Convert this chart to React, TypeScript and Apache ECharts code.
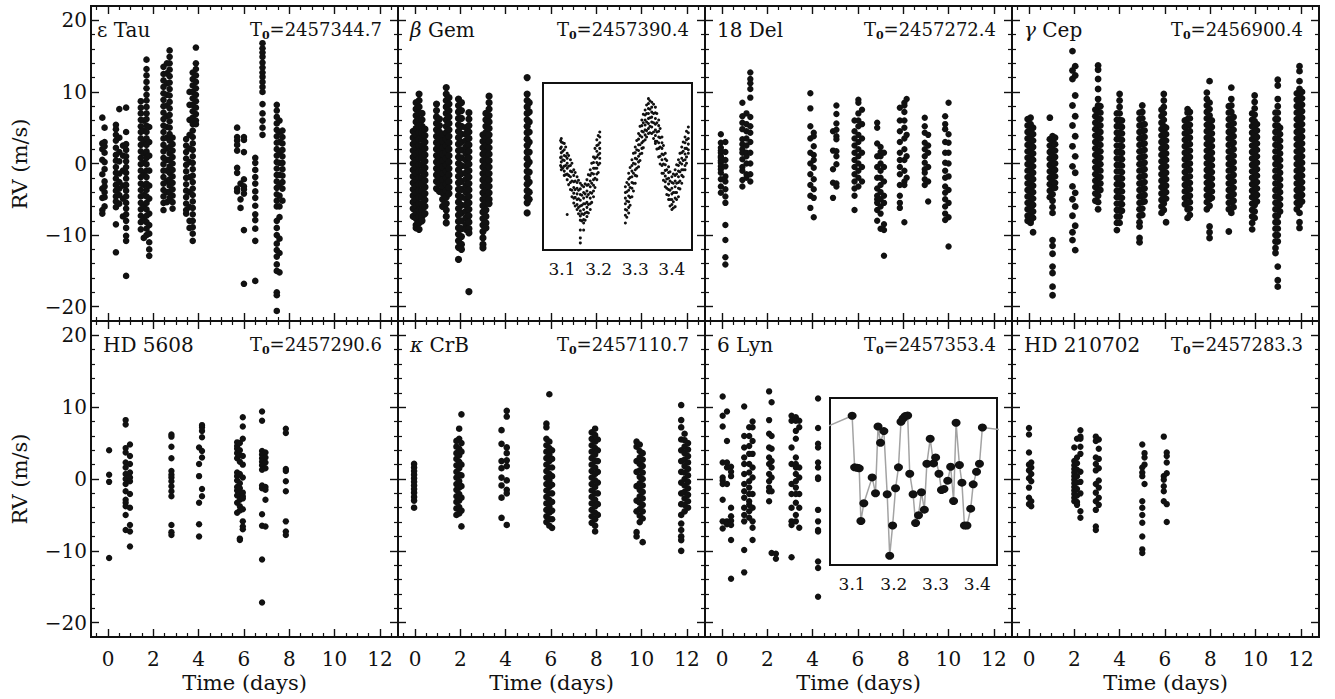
import React, { useEffect, useRef } from "react";
import * as echarts from "echarts";

type Col = [number, number[]];

// ---------- data: each entry is [time (days), [RV values m/s]] ----------
const epsTau: Col[] = [
  [-0.25, [6.4, 2.8, 2.0, 0.5, -1.5, -3.5, -4.8, -6.5, -7.0]],
  [-0.15, [5.0, 3.0, 2.4, 1.5, 0.2, -0.8, -2.5, -3.2, -4.0, -4.7, -6.0]],
  [0.35, [5.4, 4.8, 4.0, 3.2, 2.2, 1.2, 0.4, -0.5, -1.3, -2.1, -3.0, -3.8, -4.6, -5.3, -6.1, -8.5, -12.4]],
  [0.5, [7.6, 3.6, 1.6, 0.3, -1.4, -2.6, -3.5, -4.4, -5.6]],
  [0.66, [2.5, 1.1, -1.0, -3.1, -4.9, -7.4]],
  [0.8, [7.8, 4.4, 2.7, 1.9, 1.0, 0.3, -0.5, -1.3, -2.1, -3.0, -3.8, -4.6, -5.5, -6.3, -7.1, -8.0, -9.0, -10.1, -10.8, -15.7]],
  [1.45, [8.7, 7.8, 7.0, 6.1, 5.2, 4.4, 3.5, 2.6, 1.7, 0.8, -0.1, -1.0, -1.9, -2.8, -3.7, -4.6, -5.5, -6.4, -7.3, -8.2, -9.2]],
  [1.58, [6.0, 4.6, 3.1, 1.4, 0.1, -1.6, -3.0, -4.4, -6.1, -7.6, -10.4]],
  [1.7, [14.5, 13.2, 12.3, 11.4, 10.5, 9.6, 8.8, 7.9, 7.0, 6.2, 5.3, 4.4, 3.5, 2.6, 1.7, 0.8, -0.1, -1.0, -1.9, -2.8, -3.7, -4.6, -5.5, -6.4, -7.3, -8.2, -9.1, -10.0]],
  [1.82, [5.1, 3.0, 1.1, -1.0, -3.1, -4.9, -7.0, -8.6, -9.8, -11.0, -12.0, -12.9]],
  [2.45, [13.5, 12.5, 11.6, 10.7, 9.8, 8.9, 8.0, 7.1, 6.2, 5.3, 4.4, 3.5, 2.6, 1.7, 0.8, -0.1, -1.0, -1.9, -2.8, -3.7, -4.6, -5.5, -6.5]],
  [2.6, [14.0, 12.6, 11.2, 9.6, 8.1, 6.6, 5.1, 3.6, 2.1, 0.5, -1.0, -2.5, -4.0, -5.4]],
  [2.72, [15.8, 14.9, 14.0, 13.1, 12.2, 11.3, 10.4, 9.5, 8.6, 7.7, 6.8, 5.9, 5.0, 4.1, 3.2, 2.3, 1.4, 0.5, -0.4, -1.3, -2.2, -3.1, -4.0, -4.8]],
  [2.85, [3.6, 2.7, 1.8, 0.9, 0.0, -0.9, -1.8, -2.7, -3.6, -4.5, -5.4, -6.3]],
  [3.45, [3.4, 2.5, 1.6, 0.7, -0.2, -1.1, -2.0, -2.9, -3.8, -4.7, -5.6, -6.5, -7.0]],
  [3.6, [10.0, 8.2, 6.1, 4.0, 2.1, 0.2, -1.9, -4.0, -6.1, -8.0, -9.0]],
  [3.74, [12.7, 11.8, 10.9, 10.0, 9.1, 8.2, 7.3, 6.4, 5.5, 4.6, 3.7, 2.8, 1.9, 1.0, 0.1, -0.8, -1.7, -2.6, -3.5, -4.4, -5.3, -6.2, -7.1, -8.0, -8.9, -9.8, -10.8]],
  [3.88, [16.2, 14.0, 13.2, 12.3, 11.4, 10.5, 9.6, 8.7, 7.8, 6.9, 6.0, 5.5]],
  [5.7, [5.0, 3.7, 3.2, 2.6, 1.8, -0.6, -1.3, -3.5, -3.9]],
  [5.85, [-2.8, -5.0, -6.2]],
  [6.0, [3.7, 3.3, 1.6, -2.2, -3.2, -3.6, -4.2, -9.3, -16.8]],
  [6.5, [0.8, 0.1, -0.9, -1.9, -2.8, -3.9, -4.8, -5.9, -7.1, -7.9, -9.1, -10.8, -16.4]],
  [6.82, [16.8, 16.1, 15.5, 14.9, 14.1, 13.4, 12.7, 12.1, 11.4, 10.7, 10.0, 8.3, 7.0, 6.0, 5.0, 4.0]],
  [7.45, [8.2, 7.4, 6.5, 5.6, 4.7, 3.8, 2.9, 2.0, 1.1, 0.2, -0.7, -1.6, -2.5, -3.4, -4.3, -5.2, -6.0, -8.0, -9.0, -10.0, -11.2, -12.1, -13.0, -14.1, -15.0, -18.0, -18.4, -20.6]],
  [7.57, [6.0, 4.4, 3.0, 1.5, 0.1, -1.6, -3.0, -4.5, -6.0, -7.5, -10.5, -12.5, -15.2]],
  [7.7, [4.6, 3.7, 2.8, 1.9, 1.0, 0.1, -0.8, -1.7, -2.6, -3.5, -5.2]],
];

const betGem: Col[] = [
  [-0.08, [4.5, 3.6, 2.7, 1.8, 0.9, 0.0, -0.9, -1.8, -2.7, -3.6, -4.5, -5.4, -6.3, -7.4]],
  [0.05, [8.5, 7.6, 6.7, 5.8, 4.9, 4.0, 3.1, 2.2, 1.3, 0.4, -0.5, -1.4, -2.3, -3.2, -4.1, -5.0, -5.9, -6.8, -7.7, -8.6, -9.0]],
  [0.18, [9.7, 8.8, 7.9, 7.0, 6.1, 5.2, 4.3, 3.4, 2.5, 1.6, 0.7, -0.2, -1.1, -2.0, -2.9, -3.8, -4.7, -5.6, -6.5, -7.4, -8.3, -9.2]],
  [0.31, [7.0, 6.1, 5.2, 4.3, 3.4, 2.5, 1.6, 0.7, -0.2, -1.1, -2.0, -2.9, -3.8, -4.7, -5.6, -6.5, -7.4, -8.0]],
  [0.44, [4.8, 3.9, 3.0, 2.1, 1.2, 0.3, -0.6, -1.5, -2.4, -3.3, -4.2, -5.1, -6.0, -7.0]],
  [0.95, [8.3, 7.4, 6.5, 5.6, 4.7, 3.8, 2.9, 2.0, 1.1, 0.2, -0.7, -1.6, -2.5, -3.5]],
  [1.08, [6.2, 5.3, 4.4, 3.5, 2.6, 1.7, 0.8, -0.1, -1.0, -1.9, -2.8, -3.9]],
  [1.22, [4.0, 3.1, 2.2, 1.3, 0.4, -0.5, -1.4, -2.3, -3.2, -4.1, -5.0, -6.0]],
  [1.38, [10.6, 9.7, 8.8, 7.9, 7.0, 6.1, 5.2, 4.3, 3.4, 2.5, 1.6, 0.7, -0.2, -1.1, -2.0, -2.9, -3.8, -4.7, -5.6, -6.5, -7.4, -8.3]],
  [1.5, [9.2, 8.3, 7.4, 6.5, 5.6, 4.7, 3.8, 2.9, 2.0, 1.1, 0.2, -0.7, -1.6, -2.5, -3.4, -4.2]],
  [1.92, [9.0, 8.1, 7.2, 6.3, 5.4, 4.5, 3.6, 2.7, 1.8, 0.9, 0.0, -0.9, -1.8, -2.7, -3.6, -4.5, -5.4, -6.3, -7.2, -8.1, -9.0, -9.9, -10.8, -11.7, -13.4]],
  [2.05, [8.5, 7.4, 6.3, 5.2, 4.1, 3.0, 1.9, 0.8, -0.3, -1.4, -2.5, -3.6, -4.7, -5.8, -6.9, -8.0, -9.1, -10.2, -11.3, -12.0]],
  [2.25, [5.0, 4.1, 3.2, 2.3, 1.4, 0.5, -0.4, -1.3, -2.2, -3.1, -4.0, -4.9, -5.8, -6.7, -7.6, -8.5, -9.2]],
  [2.38, [7.1, 6.2, 5.3, 4.4, 3.5, 2.6, 1.7, 0.8, -0.1, -1.0, -1.9, -2.8, -3.7, -4.6, -5.5, -6.4, -7.3, -8.2, -9.1, -9.7, -17.9]],
  [3.0, [4.0, 3.1, 2.2, 1.3, 0.4, -0.5, -1.4, -2.3, -3.2, -4.1, -5.0, -5.9, -6.8, -7.7, -8.6, -9.5, -10.4, -11.3, -11.8]],
  [3.13, [7.0, 6.1, 5.2, 4.3, 3.4, 2.5, 1.6, 0.7, -0.2, -1.1, -2.0, -2.9, -3.8, -4.7, -5.6, -6.5, -7.4, -8.3, -9.0]],
  [3.27, [9.4, 8.5, 7.6, 6.7, 5.8, 4.9, 4.0, 3.1, 2.2, 1.3, 0.4, -0.5, -1.4, -2.3, -3.2, -4.1, -5.0, -5.6]],
  [4.95, [12.0, 9.7, 8.8, 7.9, 7.0, 6.1, 5.2, 4.3, 3.4, 2.5, 1.6, 0.7, -0.2, -1.1, -2.0, -2.9, -3.8, -4.7, -5.5, -6.9]],
  [5.04, [8.5, 7.2, 5.8, 4.4, 3.0, 1.6, 0.2, -1.2, -2.6, -4.0, -5.0]],
];

const betGemInset: Col[] = [
  [3.096, [3.3, 2.2, 0.9, -0.2]],
  [3.098, [3.6, 3.1, 2.4, 1.6, 1.0, 0.3, -0.4, -0.8]],
  [3.102, [3.0, 1.8, 0.6, -0.6]],
  [3.106, [2.9, 2.0, 1.2, 0.5, -0.3, -1.0, -1.6]],
  [3.11, [2.4, 1.1, -0.2, -1.5]],
  [3.114, [1.5, 0.8, 0.1, -0.6, -1.4, -2.2, -7.1]],
  [3.118, [1.2, -0.3, -1.6, -2.9]],
  [3.123, [0.6, -0.2, -1.0, -1.8, -2.6, -3.6]],
  [3.127, [0.1, -1.1, -2.4, -3.7, -4.6]],
  [3.132, [-0.8, -1.6, -2.5, -3.3, -4.1, -4.8, -5.5]],
  [3.136, [-1.2, -2.4, -3.6, -4.7, -5.9]],
  [3.141, [-1.8, -2.6, -3.4, -4.2, -5.0, -5.7, -6.4]],
  [3.145, [-2.3, -3.7, -4.9, -6.1, -7.0]],
  [3.15, [-2.7, -3.5, -4.3, -5.1, -5.9, -6.6, -7.3, -7.9, -9.3, -10.4, -11.1]],
  [3.154, [-3.0, -4.4, -5.8, -7.0, -8.0]],
  [3.159, [-3.2, -4.0, -4.8, -5.6, -6.4, -7.1, -7.8, -8.3, -9.3]],
  [3.163, [-2.8, -4.2, -5.6, -6.9, -7.9]],
  [3.168, [-2.2, -3.0, -3.8, -4.6, -5.4, -6.1, -6.8, -7.4]],
  [3.172, [-1.5, -2.9, -4.3, -5.7, -6.9]],
  [3.177, [-0.8, -1.6, -2.4, -3.2, -4.0, -4.8, -5.6, -6.4]],
  [3.181, [0.1, -1.3, -2.7, -4.1, -5.4]],
  [3.186, [1.0, 0.2, -0.6, -1.4, -2.2, -3.0, -3.8, -4.6]],
  [3.19, [2.2, 0.8, -0.6, -2.0, -3.3]],
  [3.195, [3.4, 2.6, 1.8, 1.0, 0.2, -0.6, -1.4, -2.2]],
  [3.199, [4.0, 2.7, 1.3, -0.1, -1.2]],
  [3.203, [4.5, 3.8, 3.0, 2.2, 1.5, 0.8, 0.1]],
  [3.273, [-3.2, -4.0, -4.8, -5.6, -6.4, -7.2, -8.3]],
  [3.277, [-2.6, -3.9, -5.2, -6.5, -7.5]],
  [3.282, [-1.3, -2.1, -2.9, -3.7, -4.5, -5.3, -6.1, -6.9]],
  [3.286, [-0.5, -1.9, -3.3, -4.7, -5.8]],
  [3.291, [0.6, -0.2, -1.0, -1.8, -2.6, -3.4, -4.6]],
  [3.295, [1.5, 0.1, -1.3, -2.7, -3.8]],
  [3.3, [2.4, 1.6, 0.8, 0.0, -0.8, -1.6, -2.7]],
  [3.304, [3.3, 2.0, 0.7, -0.6, -1.7]],
  [3.309, [4.3, 3.5, 2.7, 1.9, 1.1, 0.3, -0.4]],
  [3.313, [5.3, 4.0, 2.7, 1.4, 0.5]],
  [3.318, [6.2, 5.4, 4.6, 3.8, 3.0, 2.2, 1.5]],
  [3.322, [7.0, 5.8, 4.5, 3.2, 2.3]],
  [3.327, [7.6, 6.9, 6.2, 5.5, 4.8, 4.1, 3.4]],
  [3.331, [8.3, 7.1, 5.9, 4.7, 3.8]],
  [3.336, [9.2, 8.5, 7.8, 7.1, 6.4, 5.7, 5.0, 4.3]],
  [3.34, [8.9, 7.7, 6.5, 5.3, 4.4]],
  [3.345, [8.7, 8.0, 7.3, 6.6, 5.9, 5.2, 4.3]],
  [3.35, [8.4, 7.1, 5.8, 4.5, 3.6]],
  [3.355, [8.0, 7.2, 6.4, 5.6, 4.8, 4.0, 3.2, 2.9]],
  [3.359, [7.1, 5.8, 4.5, 3.2, 2.1]],
  [3.364, [6.2, 5.4, 4.6, 3.8, 3.0, 2.2, 1.0]],
  [3.368, [5.0, 3.7, 2.4, 1.1, 0.0]],
  [3.373, [3.8, 3.0, 2.2, 1.4, 0.6, -0.2, -1.3]],
  [3.377, [2.6, 1.3, 0.0, -1.3, -2.3]],
  [3.382, [1.5, 0.7, -0.1, -0.9, -1.7, -2.5, -3.2]],
  [3.386, [0.5, -0.8, -2.1, -3.4, -4.3]],
  [3.391, [-0.4, -1.2, -2.0, -2.8, -3.6, -4.4, -5.0]],
  [3.395, [-1.1, -2.4, -3.7, -5.0, -5.9]],
  [3.4, [-1.8, -2.6, -3.4, -4.2, -5.0, -5.7, -6.4]],
  [3.404, [-1.4, -2.7, -4.0, -5.3, -6.2]],
  [3.409, [-0.8, -1.6, -2.4, -3.2, -4.0, -4.8, -6.0]],
  [3.413, [-0.1, -1.4, -2.7, -4.0, -5.0]],
  [3.418, [0.6, -0.2, -1.0, -1.8, -2.6, -3.4, -4.6]],
  [3.422, [1.5, 0.2, -1.1, -2.4, -3.5]],
  [3.427, [2.4, 1.6, 0.8, 0.0, -0.8, -1.6, -2.7]],
  [3.431, [3.1, 1.8, 0.5, -0.8, -1.8]],
  [3.436, [3.8, 3.0, 2.2, 1.4, 0.6, -0.2, -0.8]],
  [3.44, [4.6, 3.4, 2.2, 1.0, 0.1]],
  [3.445, [5.2, 4.4, 3.6, 2.8, 2.0, 1.5]],
];

const del18: Col[] = [
  [-0.05, [4.1, 2.9, 2.2, 1.8, 1.5, 1.0, 0.8, 0.4, 0.1, -0.4, -0.8, -1.3, -2.2, -3.2, -4.1]],
  [0.15, [3.0, 1.6, 0.5, -0.4, -1.8, -2.5, -3.6, -4.6, -5.5, -8.6, -10.7, -13.1, -14.1]],
  [0.9, [8.5, 6.6, 5.7, 4.8, 3.4, 2.7, 2.0, 1.5, 0.6, -0.5, -1.0, -2.3, -3.2]],
  [1.08, [7.0, 5.5, 4.5, 3.5, 2.5, 1.5, 1.0, 0.0, -1.5, -2.0]],
  [1.25, [12.7, 11.8, 11.2, 10.4, 9.2, 6.5, 5.2, 4.3, 3.0, 1.5, 0.0, -1.5, -2.5]],
  [3.9, [9.8, 7.7, 5.2, 3.5, 1.5, 0.0, -1.5, -3.0, -4.5, -6.2]],
  [4.05, [4.3, 3.8, 2.4, 1.2, 0.5, -0.6, -2.2, -3.6, -4.8, -7.5]],
  [4.9, [4.5, 1.8, -0.8, -2.7, -4.8]],
  [5.05, [8.1, 6.9, 5.6, 4.7, 3.8, 3.4, 1.7, 1.0, -0.1, -2.8, -3.2]],
  [5.85, [6.0, 4.5, 3.5, 2.5, 1.5, 0.5, -0.5, -1.5, -2.5, -3.5, -4.5, -6.5]],
  [6.02, [8.9, 8.5, 7.0, 6.0, 5.2, 4.0, 3.0, 2.0, 1.0, 0.0, -1.0, -2.0, -3.2]],
  [6.18, [7.5, 5.5, 3.5, 1.5, -0.5, -2.5]],
  [6.85, [5.7, 5.0, 2.8, 1.0, -0.5, -2.0, -3.5, -4.5, -5.0, -5.5, -6.5, -8.0]],
  [7.0, [2.3, 1.6, 1.0, 0.0, -1.0, -2.0, -3.0, -4.0, -5.0, -6.0, -7.0, -9.1]],
  [7.15, [1.5, -0.5, -2.5, -4.5, -5.5, -8.5, -9.3, -12.9]],
  [7.85, [7.8, 6.0, 4.5, 3.0, 1.5, 0.5, -0.5, -1.5, -3.0, -4.5, -5.5, -6.2]],
  [8.05, [8.5, 8.1, 7.2, 6.0, 5.0, 3.5, 2.0, 0.5, -1.0, -2.5, -3.0, -8.2]],
  [8.15, [9.0, 4.0, 1.0, -2.0]],
  [8.95, [6.4, 5.2, 4.3, 2.9, 2.0, 1.0, 0.1, -0.8, -1.3, -2.2, -3.0]],
  [9.1, [4.0, 2.5, 1.5, -0.5, -2.5, -5.3]],
  [9.85, [6.6, 5.5, 4.8, 3.0, 1.5, 0.1, -1.0, -2.0, -3.2, -4.1, -5.0, -6.0, -7.0, -7.9]],
  [10.0, [8.5, 4.1, 2.9, 1.5, 0.0, -1.8, -3.7, -5.5, -7.5, -11.6]],
];

const gamCep: Col[] = [
  [-0.06, [6.2, 5.3, 4.4, 3.5, 2.6, 1.7, 0.8, -0.1, -1.0, -1.9, -2.8, -3.7, -4.6, -5.5, -6.4, -7.3, -8.0]],
  [0.07, [6.4, 5.5, 4.6, 3.7, 2.8, 1.9, 1.0, 0.1, -0.8, -1.7, -2.6, -3.5, -4.4, -5.3, -6.2, -7.1, -8.0, -8.3]],
  [0.18, [5.0, 4.1, 3.2, 2.3, 1.4, 0.5, -0.4, -1.3, -2.2, -3.1, -4.0, -4.9, -5.8, -6.7, -7.6, -9.6]],
  [0.92, [6.4, 3.4, 2.5, 1.6, 0.7, -0.2, -1.1, -2.0, -2.9, -3.8, -4.7]],
  [1.04, [3.8, 2.9, 2.0, 1.1, 0.2, -0.7, -1.6, -2.5, -3.4, -4.3, -5.2, -6.1, -6.9, -10.7, -11.5, -12.6, -14.4, -15.3, -17.2, -18.4]],
  [1.15, [3.6, 2.7, 1.8, 0.9, 0.0, -0.9, -1.8, -2.7, -3.4]],
  [1.92, [15.7, 13.0, 11.8, 8.1, 5.3, 2.4, -0.4, -3.2, -5.0, -7.3, -9.6, -10.7]],
  [2.04, [13.6, 12.3, 9.5, 6.6, 3.8, 1.0, -1.3, -4.1, -6.0, -8.7, -12.1]],
  [2.93, [7.5, 6.6, 5.7, 4.8, 3.9, 3.0, 2.1, 1.2, 0.3, -0.6, -1.5, -2.4, -3.3, -4.2, -5.2]],
  [3.05, [13.7, 13.1, 11.8, 10.4, 9.0, 8.1, 7.2, 6.3, 5.4, 4.5, 3.6, 2.7, 1.8, 0.9, 0.0, -0.9, -1.8, -2.7, -3.6, -4.5, -5.4, -6.4]],
  [3.15, [8.0, 7.1, 6.2, 5.3, 4.4, 3.5, 2.6, 1.7, 0.8, -0.1, -1.0, -1.9, -2.8, -3.7]],
  [3.88, [7.0, 6.1, 5.2, 4.3, 3.4, 2.5, 1.6, 0.7, -0.2, -1.1, -2.0, -2.9, -3.8, -4.7, -5.6, -6.5, -7.4, -8.3, -9.3]],
  [4.0, [9.7, 8.8, 7.9, 7.0, 6.1, 5.2, 4.3, 3.4, 2.5, 1.6, 0.7, -0.2, -1.1, -2.0, -2.9, -3.8, -4.7, -5.6, -6.5, -7.4, -8.3]],
  [4.1, [6.0, 5.1, 4.2, 3.3, 2.4, 1.5, 0.6, -0.3, -1.2, -2.1, -3.0, -3.9, -4.8, -5.7, -6.6]],
  [4.88, [7.1, 6.2, 5.3, 4.4, 3.5, 2.6, 1.7, 0.8, -0.1, -1.0, -1.9, -2.8, -3.7, -4.6, -5.5, -6.4, -7.3, -8.2, -8.8, -10.4, -11.0]],
  [5.0, [8.1, 7.2, 6.3, 5.4, 4.5, 3.6, 2.7, 1.8, 0.9, 0.0, -0.9, -1.8, -2.7, -3.6, -4.5, -5.4, -6.3, -7.2]],
  [5.1, [5.5, 4.6, 3.7, 2.8, 1.9, 1.0, 0.1, -0.8, -1.7, -2.6, -3.5, -4.4, -5.3]],
  [5.85, [7.5, 6.6, 5.7, 4.8, 3.9, 3.0, 2.1, 1.2, 0.3, -0.6, -1.5, -2.4, -3.3, -4.2, -5.1, -6.0, -6.9]],
  [5.95, [9.7, 8.8, 7.9, 7.0, 6.1, 5.2, 4.3, 3.4, 2.5, 1.6, 0.7, -0.2, -1.1, -2.0, -2.9, -3.8, -4.7, -5.6, -6.5]],
  [6.05, [5.0, 4.1, 3.2, 2.3, 1.4, 0.5, -0.4, -1.3, -2.2, -3.1, -4.0, -4.9, -8.2]],
  [6.88, [6.0, 5.1, 4.2, 3.3, 2.4, 1.5, 0.6, -0.3, -1.2, -2.1, -3.0, -3.9, -4.8, -5.7]],
  [7.0, [7.6, 7.1, 6.2, 5.3, 4.4, 3.5, 2.6, 1.7, 0.8, -0.1, -1.0, -1.9, -2.8, -3.7, -4.6, -5.5, -6.4, -7.6]],
  [7.1, [7.2, 6.3, 5.4, 4.5, 3.6, 2.7, 1.8, 0.9, 0.0, -0.9, -1.8, -2.7, -3.6, -4.5, -5.4, -6.3, -7.2]],
  [7.85, [9.9, 9.0, 8.1, 7.2, 6.3, 5.4, 4.5, 3.6, 2.7, 1.8, 0.9, 0.0, -0.9, -1.8, -2.7, -3.6, -4.5, -5.4, -6.4]],
  [7.97, [11.5, 8.5, 7.6, 6.7, 5.8, 4.9, 4.0, 3.1, 2.2, 1.3, 0.4, -0.5, -1.4, -2.3, -3.2, -4.1, -5.0, -5.9, -8.8, -9.6, -10.4]],
  [8.07, [6.0, 5.1, 4.2, 3.3, 2.4, 1.5, 0.6, -0.3, -1.2, -2.1, -3.0, -3.9, -4.8]],
  [8.82, [8.0, 7.1, 6.2, 5.3, 4.4, 3.5, 2.6, 1.7, 0.8, -0.1, -1.0, -1.9, -2.8, -3.7, -4.6, -5.5, -6.4, -9.5]],
  [8.93, [10.6, 9.0, 8.1, 7.2, 6.3, 5.4, 4.5, 3.6, 2.7, 1.8, 0.9, 0.0, -0.9, -1.8, -2.7, -3.6, -4.5, -5.4, -6.3, -6.9]],
  [9.03, [6.5, 5.6, 4.7, 3.8, 2.9, 2.0, 1.1, 0.2, -0.7, -1.6, -2.5, -3.4, -4.3, -5.2, -6.1]],
  [9.85, [7.0, 6.1, 5.2, 4.3, 3.4, 2.5, 1.6, 0.7, -0.2, -1.1, -2.0, -2.9, -3.8, -4.7, -5.6, -6.5, -7.4, -8.3, -9.2]],
  [9.96, [9.5, 8.6, 7.7, 6.8, 5.9, 5.0, 4.1, 3.2, 2.3, 1.4, 0.5, -0.4, -1.3, -2.2, -3.1, -4.0, -4.9, -5.8, -6.7, -7.6]],
  [10.06, [5.5, 4.6, 3.7, 2.8, 1.9, 1.0, 0.1, -0.8, -1.7, -2.6, -3.5, -4.4, -5.3]],
  [10.88, [7.1, 6.2, 5.3, 4.4, 3.5, 2.6, 1.7, 0.8, -0.1, -1.0, -1.9, -2.8, -3.7, -4.6, -5.5, -6.4, -7.3, -8.2, -9.1, -10.0, -10.9, -11.8, -12.5]],
  [10.98, [11.7, 10.9, 9.0, 8.0, 7.1, 6.2, 5.3, 4.4, 3.5, 2.6, 1.7, 0.8, -0.1, -1.0, -1.9, -2.8, -3.7, -4.6, -5.5, -6.4, -7.3, -8.2, -9.1, -10.0, -10.9, -14.4, -16.3, -17.2]],
  [11.08, [5.0, 4.1, 3.2, 2.3, 1.4, 0.5, -0.4, -1.3, -2.2, -3.1, -4.0, -4.9, -5.8, -6.7]],
  [11.82, [9.8, 8.9, 8.0, 7.1, 6.2, 5.3, 4.4, 3.5, 2.6, 1.7, 0.8, -0.1, -1.0, -1.9, -2.8, -3.7, -4.6, -5.5, -6.4]],
  [11.94, [13.6, 12.9, 11.5, 10.4, 9.5, 8.6, 7.7, 6.8, 5.9, 5.0, 4.1, 3.2, 2.3, 1.4, 0.5, -0.4, -1.3, -2.2, -3.1, -4.0, -4.9, -5.8, -6.9, -8.2, -9.0]],
  [12.05, [10.0, 9.1, 8.2, 7.3, 6.4, 5.5, 4.6, 3.7, 2.8, 1.9, 1.0, 0.1, -0.8, -1.7, -2.6, -3.5, -4.4, -5.3]],
];

const hd5608: Col[] = [
  [0.05, [4.0, 0.6, -0.4, -11.0]],
  [0.78, [8.2, 7.6, 4.3, 3.7, 2.3, 1.6, 0.7, 0.0, -0.7, -1.7, -2.9, -3.3, -3.8, -5.0, -7.1]],
  [0.97, [4.8, 3.2, 2.1, 0.9, 0.2, -0.3, -2.1, -4.0, -6.4, -7.3, -9.4]],
  [2.8, [6.2, 5.9, 4.5, 2.9, 1.1, 0.6, 0.2, -0.3, -1.0, -1.7, -2.4, -6.4, -7.4, -7.8]],
  [4.02, [4.4, 2.1, 0.4, -3.3, -6.3, -8.0]],
  [4.15, [7.5, 7.2, 6.7, 5.8, 3.9, 3.0, -1.4, -2.4]],
  [5.7, [5.1, 4.6, 4.2, 3.6, 2.9, 0.9, 0.4, -0.2, -1.1, -1.6, -2.3, -3.3, -4.7]],
  [5.82, [5.0, 4.0, 3.3, 2.4, 0.7, -0.6, -1.3, -2.1, -2.9, -3.8, -4.4, -8.3, -8.5]],
  [5.95, [8.6, 7.3, 5.6, 3.2, 2.0, 0.2, -1.9, -2.4, -2.7, -4.2, -5.9, -6.6, -7.0]],
  [6.8, [9.4, 8.1, 3.9, 3.4, 2.9, 2.4, 1.9, 1.3, -0.9, -1.3, -4.9, -6.5, -11.2, -17.2]],
  [6.95, [3.7, 3.0, 2.3, 1.5, -1.1, -1.5, -2.9, -6.6]],
  [7.85, [7.0, 6.4, 1.4, 1.1, -0.3, -1.7, -5.9, -7.3, -7.8]],
];

const kapCrB: Col[] = [
  [-0.04, [2.1, 1.6, 1.1, 0.6, 0.1, -0.4, -0.9, -1.4, -1.9, -2.5, -3.0, -4.0]],
  [1.83, [5.3, 4.5, 3.6, 2.8, 1.9, 1.0, 0.2, -0.7, -1.5, -2.4, -3.2, -4.1, -5.0]],
  [1.95, [7.0, 5.6, 4.2, 3.3, 2.4, 1.5, 0.6, -0.3, -1.2, -2.1, -3.0, -3.9, -4.8]],
  [2.05, [9.0, 5.0, 3.8, 2.0, 0.5, -1.0, -2.6, -4.4, -6.6]],
  [3.82, [6.8, 4.9, 2.5, 1.5, 0.2, -0.9, -2.6, -5.4]],
  [4.05, [9.5, 8.7, 4.4, 3.6, 2.6, 1.8, -0.2, -1.5, -2.0, -6.4]],
  [5.8, [7.7, 7.2, 5.6, 4.7, 3.8, 2.9, 2.0, 1.1, 0.2, -0.7, -1.6, -2.5, -3.4, -4.3, -5.2, -6.0]],
  [5.93, [11.8, 5.2, 4.3, 3.4, 2.5, 1.6, 0.7, -0.2, -1.1, -2.0, -2.9, -3.8, -4.7, -5.6, -6.5]],
  [6.05, [4.0, 2.8, 1.6, 0.4, -0.8, -2.0, -3.2, -4.4, -5.6, -6.8]],
  [7.8, [6.5, 5.6, 4.7, 3.8, 2.9, 2.0, 1.1, 0.2, -0.7, -1.6, -2.5, -3.4, -4.3, -5.2, -6.1]],
  [7.95, [7.0, 6.1, 5.2, 4.3, 3.4, 2.5, 1.6, 0.7, -0.2, -1.1, -2.0, -2.9, -3.8, -4.7, -5.6, -6.5, -7.3]],
  [8.07, [5.5, 4.0, 2.5, 1.0, -0.5, -2.0, -3.5, -5.0]],
  [9.78, [5.2, 4.5, 2.5, 1.0, -1.0, -3.0, -4.5, -7.4, -8.0]],
  [9.92, [4.8, 3.9, 3.0, 2.1, 1.2, 0.3, -0.6, -1.5, -2.4, -3.3, -4.2, -5.1, -6.0]],
  [10.05, [3.6, 2.7, 1.8, 0.9, 0.0, -0.9, -1.8, -2.7, -3.6, -4.5, -5.5, -8.8]],
  [11.75, [10.3, 8.2, 7.2, 5.5, 4.0, 2.5, 1.0, -0.5, -2.0, -3.5, -5.0, -6.2, -7.1, -8.0, -8.5, -10.0]],
  [11.9, [6.3, 5.4, 4.5, 3.6, 2.7, 1.8, 0.9, 0.0, -0.9, -1.8, -2.7, -3.6, -4.5]],
  [12.05, [5.0, 4.1, 3.2, 2.3, 1.4, 0.5, -0.4, -1.3, -2.2, -3.1, -4.0]],
];

const lyn6: Col[] = [
  [0.03, [11.5, 8.8, 7.3, 2.3, 0.2, -0.2, -0.7, -2.9, -5.9, -6.9]],
  [0.22, [9.4, 5.3, 2.3, 1.6, -0.7, -5.9, -6.3]],
  [0.4, [1.7, 1.0, 0.4, -4.0, -5.2, -5.8, -6.4, -8.5, -13.9]],
  [0.98, [10.1, 6.0, 4.4, 3.0, 2.1, 0.7, -0.7, -1.7, -2.6, -4.0, -5.0, -5.9, -9.9, -13.0]],
  [1.2, [7.2, 6.0, 4.6, 3.5, 2.1, 0.9, -0.3, -1.2, -2.1, -3.1, -3.6, -4.5, -5.4]],
  [1.35, [8.0, 7.2, 5.3, 3.5, 1.6, 0.2, -2.1, -4.0, -5.9, -6.8, -8.5]],
  [2.08, [12.2, 8.2, 6.3, 4.4, 3.0, 2.1, 0.7, -0.3, -1.2, -1.7, -3.1]],
  [2.19, [10.7, 6.0, 4.2, 2.5, 1.6, 0.2, -1.7, -10.3]],
  [2.38, [-10.4, -11.1]],
  [3.07, [8.8, 8.1, 4.4, 2.1, -0.7, -2.1, -4.0, -5.9, -6.4, -10.9]],
  [3.26, [8.6, 8.1, 6.7, 5.6, 3.0, 2.1, 1.6, 0.7, -0.3, -1.2, -2.1, -3.3, -5.0, -5.9]],
  [3.41, [8.1, 7.2, 1.6, 0.2, -2.1, -4.0, -6.8]],
  [4.24, [11.2, 7.1, 4.9, 4.4, 2.3, 1.6, 0.2, 0.0, -4.3, -5.9, -7.1, -7.3, -11.5, -12.4, -16.4]],
];

const lyn6InsetTimes = [
  3.0, 3.1, 3.106, 3.112, 3.117, 3.121, 3.128, 3.148, 3.156, 3.162, 3.168, 3.176, 3.184, 3.19, 3.197,
  3.204, 3.211, 3.217, 3.222, 3.227, 3.233, 3.238, 3.246, 3.252, 3.259, 3.266, 3.273, 3.279, 3.287,
  3.295, 3.3, 3.308, 3.314, 3.32, 3.329, 3.336, 3.343, 3.349, 3.357, 3.363, 3.369, 3.375, 3.384, 3.39,
  3.398, 3.405, 3.412, 3.5,
];
const lyn6InsetRV = [
  6.37, 8.9, 1.64, 1.59, 1.5, -5.9, -3.42, 0.23, -2.01, 7.4, 5.1, 6.74, -2.15, -10.8, -6.55,
  -1.31, 1.64, 8.05, 8.52, 8.85, 8.94, 0.75, -2.15, -6.18, -5.1, -1.87, -4.31, 2.15, 5.66,
  2.2, 3.04, 0.75, -1.54, -1.4, -0.23, 1.73, -3.09, 7.91, 1.97, -0.51, -6.55, -6.55, -4.17, -0.75,
  1.03, 2.15, 7.26, 6.65,
];

const hd210702: Col[] = [
  [0.0, [7.1, 6.2, 3.7, 2.0, 1.2, 0.1, -1.2, -2.6, -3.5]],
  [0.1, [2.3, 1.6, 0.7, -0.3, -3.1, -3.8]],
  [2.0, [4.4, 2.5, 1.9, 1.4, 0.9, 0.4, -0.1, -0.6, -1.1, -1.6, -2.1, -2.6, -3.1]],
  [2.12, [5.6, 3.0, 2.2, 1.3, 0.4, -0.5, -1.4, -2.3, -3.2, -3.6]],
  [2.27, [6.8, 5.9, 5.6, 4.5, 3.5, 1.0, -0.4, -2.0, -4.5, -5.4]],
  [2.95, [5.9, 5.3, 3.0, 2.1, 1.2, -0.7, -1.9, -3.1, -4.3, -6.6, -7.1]],
  [3.08, [5.5, 4.2, 2.8, 1.5, -0.2, -1.2, -2.6, -3.6]],
  [5.0, [4.8, 1.6, 0.9, 0.4, -3.1, -4.0, -5.0, -6.1, -8.0, -9.8, -10.3]],
  [5.1, [3.6, 3.0, 2.0, -0.7]],
  [5.95, [5.9, 0.4, -0.1, -1.0, -1.7, -3.1]],
  [6.08, [3.7, 3.2, 2.3, 0.8, -3.5, -6.0]],
];

const starNames = ["ε Tau", "β Gem", "18 Del", "γ Cep", "HD 5608", "κ CrB", "6 Lyn", "HD 210702"];
const greekPrefix = [true, true, false, true, false, true, false, false];
const t0Values = ["2457344.7", "2457390.4", "2457272.4", "2456900.4", "2457290.6", "2457110.7", "2457353.4", "2457283.3"];

const xMajorTicks = [0, 2, 4, 6, 8, 10, 12];
const xMinorTicks = [-0.5, 0.5, 1, 1.5, 2.5, 3, 3.5, 4.5, 5, 5.5, 6.5, 7, 7.5, 8.5, 9, 9.5, 10.5, 11, 11.5, 12.5];
const yMajorTicks = [-20, -10, 0, 10, 20];
const yMinorTicks = [-18, -16, -14, -12, -8, -6, -4, -2, 2, 4, 6, 8, 12, 14, 16, 18];
const insetXMajor = [3.1, 3.2, 3.3, 3.4];
const insetXMinor = [3.06, 3.08, 3.12, 3.14, 3.16, 3.18, 3.22, 3.24, 3.26, 3.28, 3.32, 3.34, 3.36, 3.38, 3.42, 3.44];
const insetYMajor = [-10, -5, 0, 5, 10];
const insetYMinor = [-12, -11, -9, -8, -7, -6, -4, -3, -2, -1, 1, 2, 3, 4, 6, 7, 8, 9, 11];

const INK = "#111111";
const FONT = "DejaVu Serif";

const flatten = (cols: Col[]) => cols.flatMap(([x, ys]) => ys.map((y) => [x, y]));
const minusFmt = (v: number) => (v < 0 ? "\u2212" + Math.abs(v) : String(v));

function buildOption() {
  const grid: any[] = [];
  const xAxis: any[] = [];
  const yAxis: any[] = [];
  const series: any[] = [];
  const graphic: any[] = [];

  const tick = (vals: number[], len: number, w: number) => ({
    show: true,
    inside: true,
    length: len,
    customValues: vals,
    lineStyle: { color: INK, width: w },
  });
  const base = (gi: number, min: number, max: number) => ({
    type: "value",
    gridIndex: gi,
    min,
    max,
    axisLine: { show: false, onZero: false },
    splitLine: { show: false },
    axisPointer: { show: false },
  });

  const addAxes = (
    gi: number,
    xr: [number, number],
    yr: [number, number],
    xMaj: number[],
    xMin: number[],
    yMaj: number[],
    yMin: number[],
    majLen: number,
    minLen: number,
    xLabel: any,
    yLabel: any
  ) => {
    const xi = xAxis.length;
    const yi = yAxis.length;
    ["bottom", "top"].forEach((pos) => {
      xAxis.push({
        ...base(gi, xr[0], xr[1]),
        position: pos,
        axisTick: tick(xMaj, majLen, 1.4),
        axisLabel: pos === "bottom" && xLabel ? { show: true, customValues: xMaj, ...xLabel } : { show: false },
      });
      xAxis.push({ ...base(gi, xr[0], xr[1]), position: pos, axisTick: tick(xMin, minLen, 1.2), axisLabel: { show: false } });
    });
    ["left", "right"].forEach((pos) => {
      yAxis.push({
        ...base(gi, yr[0], yr[1]),
        position: pos,
        axisTick: tick(yMaj, majLen, 1.4),
        axisLabel: pos === "left" && yLabel ? { show: true, customValues: yMaj, ...yLabel } : { show: false },
      });
      yAxis.push({ ...base(gi, yr[0], yr[1]), position: pos, axisTick: tick(yMin, minLen, 1.2), axisLabel: { show: false } });
    });
    return [xi, yi];
  };

  const panelData = [epsTau, betGem, del18, gamCep, hd5608, kapCrB, lyn6, hd210702];
  const dotSizes = [6.6, 7.2, 6.4, 6.8, 6.4, 6.6, 6.4, 6.4];
  const W = 307;

  panelData.forEach((cols, i) => {
    const c = i % 4;
    const r = Math.floor(i / 4);
    const left = 91 + W * c;
    const top = r === 0 ? 6 : 321;
    const height = r === 0 ? 315 : 316;
    grid.push({ left, top, width: W, height, show: true, borderColor: INK, borderWidth: 2, backgroundColor: "transparent" });
    const gi = grid.length - 1;
    const xLabel = r === 1 ? { margin: 12, fontSize: 20, fontFamily: FONT, color: INK } : null;
    const yLabel = c === 0 ? { margin: 4, fontSize: 20, fontFamily: FONT, color: INK, formatter: minusFmt } : null;
    const [xi, yi] = addAxes(gi, [-0.75, 12.8], [-22, 22], xMajorTicks, xMinorTicks, yMajorTicks, yMinorTicks, 8, 4, xLabel, yLabel);
    series.push({
      type: "scatter",
      xAxisIndex: xi,
      yAxisIndex: yi,
      data: flatten(cols),
      symbol: "circle",
      symbolSize: dotSizes[i],
      itemStyle: { color: INK, opacity: 1 },
      silent: true,
      z: 3,
    });

    const name = starNames[i];
    const txt = greekPrefix[i] ? "{g|" + name.charAt(0) + "}{n|" + name.slice(1) + "}" : "{n|" + name + "}";
    graphic.push({
      type: "text",
      x: left + (i === 0 ? 6 : 12),
      y: top + 23.5,
      silent: true,
      style: {
        text: txt,
        align: "left",
        verticalAlign: "middle",
        fill: INK,
        font: "20px " + FONT,
        rich: {
          g: { fontFamily: FONT, fontSize: 20, fontStyle: i === 0 ? "normal" : "italic", fill: INK },
          n: { fontFamily: FONT, fontSize: 20, fill: INK },
        },
      },
    });
    graphic.push({
      type: "text",
      x: left + W - 16,
      y: top + 23.5,
      silent: true,
      style: {
        text: "{a|T}{b|0}{a|=" + t0Values[i] + "}",
        align: "right",
        verticalAlign: "middle",
        fill: INK,
        font: "18px " + FONT,
        rich: {
          a: { fontFamily: FONT, fontSize: 18, lineHeight: 22, verticalAlign: "middle", fill: INK },
          b: { fontFamily: FONT, fontSize: 11, fontWeight: "bold", lineHeight: 22, verticalAlign: "bottom", fill: INK },
        },
      },
    });
    if (r === 1) {
      graphic.push({
        type: "text",
        x: left + W / 2,
        y: 683,
        silent: true,
        style: { text: "Time (days)", align: "center", verticalAlign: "middle", fill: INK, font: "21px " + FONT },
      });
    }
    if (c === 0) {
      graphic.push({
        type: "text",
        x: 20,
        y: r === 0 ? 164 : 479,
        rotation: Math.PI / 2,
        silent: true,
        style: { text: "RV (m/s)", align: "center", verticalAlign: "middle", fill: INK, font: "21px " + FONT },
      });
    }
  });

  const insetLabel = { margin: 10, fontSize: 17, fontFamily: FONT, color: INK };

  grid.push({ left: 543, top: 83, width: 149, height: 167, show: true, borderColor: INK, borderWidth: 2, backgroundColor: "#ffffff", z: 1 });
  {
    const gi = grid.length - 1;
    const [xi, yi] = addAxes(gi, [3.048, 3.455], [-12.1, 11.4], insetXMajor, insetXMinor, insetYMajor, insetYMinor, 4, 2, insetLabel, null);
    series.push({
      type: "scatter",
      xAxisIndex: xi,
      yAxisIndex: yi,
      data: flatten(betGemInset),
      symbol: "circle",
      symbolSize: 3,
      itemStyle: { color: INK, opacity: 1 },
      silent: true,
      z: 5,
    });
  }

  grid.push({ left: 830, top: 398, width: 167, height: 167, show: true, borderColor: INK, borderWidth: 2, backgroundColor: "#ffffff", z: 1 });
  {
    const gi = grid.length - 1;
    const [xi, yi] = addAxes(gi, [3.047, 3.447], [-12.1, 11.4], insetXMajor, insetXMinor, insetYMajor, insetYMinor, 4, 2, insetLabel, null);
    series.push({
      type: "line",
      xAxisIndex: xi,
      yAxisIndex: yi,
      data: lyn6InsetTimes.map((t, k) => [t, lyn6InsetRV[k]]),
      symbol: "circle",
      symbolSize: [9, 8],
      showSymbol: true,
      showAllSymbol: true,
      clip: true,
      itemStyle: { color: INK, opacity: 1 },
      lineStyle: { color: "#a3a3a3", width: 1.5 },
      silent: true,
      z: 5,
    });
  }

  return {
    animation: false,
    backgroundColor: "#ffffff",
    textStyle: { fontFamily: FONT },
    grid,
    xAxis,
    yAxis,
    series,
    graphic,
  };
}

export default function App() {
  const ref = useRef<HTMLDivElement>(null);
  useEffect(() => {
    if (!ref.current) return;
    const chart = echarts.init(ref.current, null, { renderer: "svg" });
    chart.setOption(buildOption() as any);
    return () => chart.dispose();
  }, []);
  return <div ref={ref} style={{ position: "absolute", left: 0, top: 0, width: 1335, height: 699 }} />;
}
